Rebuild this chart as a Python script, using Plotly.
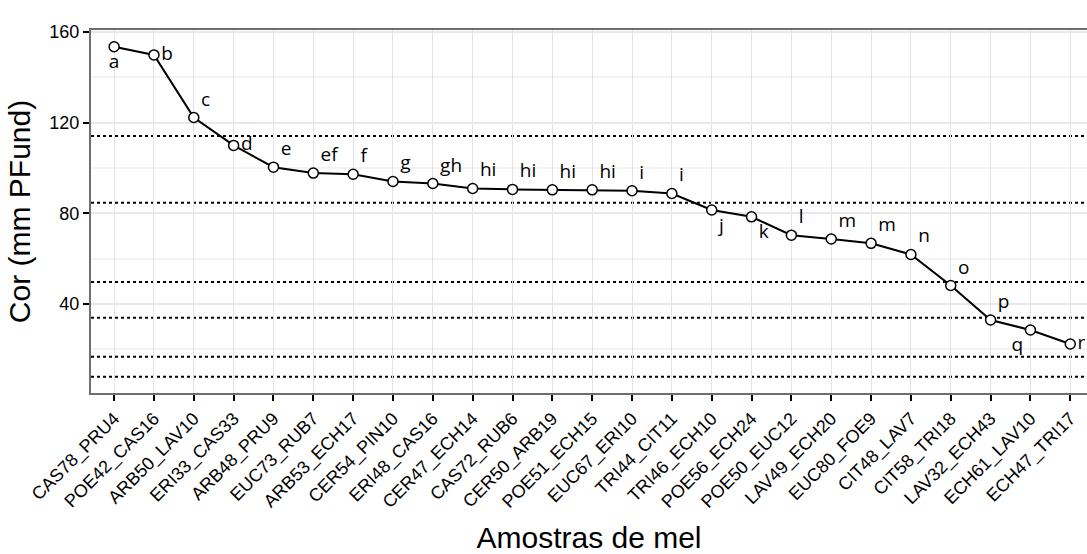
import plotly.graph_objects as go

# Honey samples ordered by colour (mm Pfund) with significance letters
samples = ["CAS78_PRU4", "POE42_CAS16", "ARB50_LAV10", "ERI33_CAS33", "ARB48_PRU9",
           "EUC73_RUB7", "ARB53_ECH17", "CER54_PIN10", "ERI48_CAS16", "CER47_ECH14",
           "CAS72_RUB6", "CER50_ARB19", "POE51_ECH15", "EUC67_ERI10", "TRI44_CIT11",
           "TRI46_ECH10", "POE56_ECH24", "POE50_EUC12", "LAV49_ECH20", "EUC80_FOE9",
           "CIT48_LAV7", "CIT58_TRI18", "LAV32_ECH43", "ECH61_LAV10", "ECH47_TRI17"]
colour = [153.5, 149.9, 122.3, 110.0, 100.4, 97.8, 97.3, 94.1, 93.2, 91.0,
          90.6, 90.4, 90.4, 90.0, 88.8, 81.5, 78.5, 70.4, 68.7, 66.8,
          61.9, 48.2, 33.0, 28.6, 22.4]
letters = ["a", "b", "c", "d", "e", "ef", "f", "g", "gh", "hi",
           "hi", "hi", "hi", "i", "i", "j", "k", "l", "m", "m",
           "n", "o", "p", "q", "r"]

# Colour class boundaries (mm Pfund)
class_limits = [114.2, 84.7, 49.8, 34.0, 16.8, 8.0]

y_ticks = [40, 80, 120, 160]

# Where each letter sits relative to its point
label_pos = ["bottom center", "middle right", "top right", "middle right", "top right",
             "top right", "top right", "top right", "top right", "top right",
             "top right", "top right", "top right", "top right", "top right",
             "bottom right", "bottom right", "top right", "top right", "top right",
             "top right", "top right", "top right", "bottom left", "middle right"]

fig = go.Figure()

for lim in class_limits:
    fig.add_hline(y=lim, line=dict(color="black", width=2, dash="dot"), layer="below")

fig.add_trace(go.Scatter(
    x=samples, y=colour, mode="lines+markers+text",
    text=letters, textposition=label_pos,
    textfont=dict(family="Open Sans", size=19, color="black"),
    line=dict(color="black", width=2),
    marker=dict(symbol="circle", size=10, color="white",
                line=dict(color="black", width=1.5)),
    showlegend=False, cliponaxis=False,
))

sans = "Liberation Sans, Arial, sans-serif"
tick_font = dict(family=sans, size=18, color="black")
title_font = dict(family=sans, size=30, color="black")

fig.update_layout(
    width=1087, height=554,
    margin=dict(l=91, r=0, t=30, b=161),
    paper_bgcolor="white", plot_bgcolor="white",
    font=tick_font,
    xaxis=dict(
        type="category", range=[-0.58, 24.42],
        tickangle=-45, tickfont=tick_font, automargin=False,
        showgrid=True, gridcolor="#e3e3e3", gridwidth=1,
        showline=True, linecolor="#6e6e6e", linewidth=2, mirror=True,
        ticks="outside", ticklen=6, tickcolor="black", tickwidth=1.5,
        title=dict(text="Amostras de mel", font=title_font, standoff=20),
        zeroline=False,
    ),
    yaxis=dict(
        range=[0.8, 160.9], tickvals=y_ticks, tickfont=tick_font, automargin=False,
        showgrid=True, gridcolor="#e8e8e8", gridwidth=1.5,
        minor=dict(tick0=0, dtick=20, showgrid=True, gridcolor="#f3f3f3", gridwidth=1.5),
        showline=True, linecolor="#6e6e6e", linewidth=2,
        ticks="outside", ticklen=6, tickcolor="black", tickwidth=1.5,
        title=dict(text="Cor (mm PFund)", font=title_font, standoff=10),
        zeroline=False,
    ),
)

fig.write_html("out.html")
